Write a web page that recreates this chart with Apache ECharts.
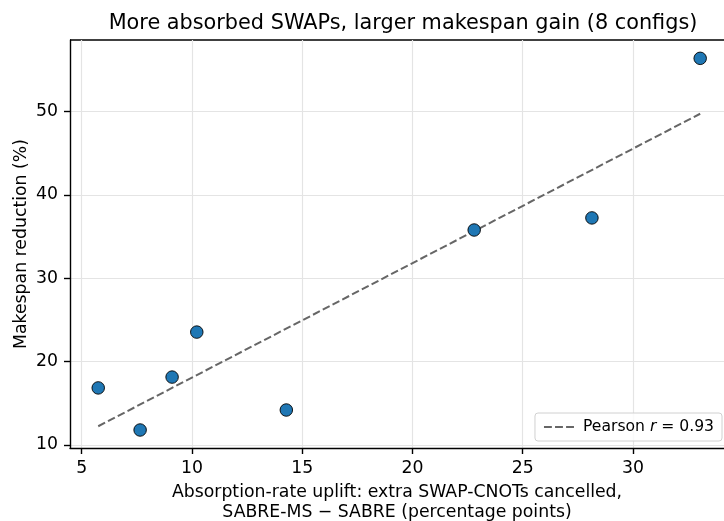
<!DOCTYPE html>
<html><head><meta charset="utf-8">
<script src="https://cdn.jsdelivr.net/npm/echarts@6/dist/echarts.min.js"></script>
<style>html,body{margin:0;padding:0;background:#fff}#c{width:724px;height:521px}</style>
</head><body><div id="c"></div>
<script>
var upliftX = [5.75, 7.65, 9.1, 10.22, 14.28, 22.8, 28.14, 33.05];
var makespanY = [16.85, 11.8, 18.15, 23.55, 14.2, 35.8, 37.25, 56.4];
var fitX = [5.75, 33.05];
var fitY = [12.25, 49.75];
var xTicks = [5, 10, 15, 20, 25, 30];
var yTicks = [10, 20, 30, 40, 50];

var pts = upliftX.map(function(x, i){ return [x, makespanY[i]]; });
var fit = fitX.map(function(x, i){ return [x, fitY[i]]; });
var F = 'DejaVu Sans';
var chart = echarts.init(document.getElementById('c'), null, {renderer:'canvas'});
chart.setOption({
  animation:false,
  textStyle:{fontFamily:F},
  title:{text:'More absorbed SWAPs, larger makespan gain (8 configs)', left:398, textAlign:'center', top:8,
    textStyle:{fontFamily:F, fontSize:20.8, fontWeight:'normal', color:'#000'}},
  grid:{left:70, right:0, top:40, bottom:73, outerBoundsMode:'none', containLabel:false},
  legend:{right:2, bottom:80, orient:'horizontal', data:[{name:'fit'}],
    icon:'path://M0,0h8v2h-8z M11.2,0h8v2h-8z M22.4,0h8v2h-8z', itemWidth:30, itemHeight:2, itemGap:8,
    padding:[6,8,6,9], borderColor:'#d0d0d0', borderWidth:1, borderRadius:3, backgroundColor:'rgba(255,255,255,0.8)',
    formatter:function(){return 'Pearson {i|r} = 0.93';},
    textStyle:{fontFamily:F, fontSize:15.6, color:'#000', padding:[0,0,0,4], rich:{i:{fontFamily:F, fontStyle:'italic', fontSize:15.6, color:'#000'}}}
  },
  xAxis:{type:'value', min:4.47, max:34.13,
    name:'Absorption-rate uplift: extra SWAP-CNOTs cancelled,\nSABRE-MS \u2212 SABRE (percentage points)',
    nameLocation:'middle', nameGap:35, nameMoveOverlap:false, nameTextStyle:{fontFamily:F, fontSize:17.3, color:'#000', lineHeight:20},
    axisLine:{show:true, onZero:false, lineStyle:{color:'#000', width:1.4}},
    axisTick:{show:true, inside:false, length:6, customValues:xTicks, lineStyle:{color:'#000', width:1.4}},
    axisLabel:{customValues:xTicks, fontFamily:F, fontSize:17.3, color:'#000', margin:12},
    splitLine:{show:true, lineStyle:{color:'#e4e4e4', width:1.2}}
  },
  yAxis:{type:'value', min:9.64, max:58.6,
    name:'Makespan reduction (%)', nameLocation:'middle', nameGap:40, nameMoveOverlap:false, nameRotate:90,
    nameTextStyle:{fontFamily:F, fontSize:17.3, color:'#000'},
    axisLine:{show:true, onZero:false, lineStyle:{color:'#000', width:1.4}},
    axisTick:{show:true, inside:false, length:6, customValues:yTicks, lineStyle:{color:'#000', width:1.4}},
    axisLabel:{customValues:yTicks, fontFamily:F, fontSize:17.3, color:'#000', margin:12},
    splitLine:{show:true, lineStyle:{color:'#e4e4e4', width:1.2}}
  },
  graphic:[{type:'line', shape:{x1:70, y1:40, x2:724, y2:40}, style:{stroke:'#000', lineWidth:1.4}, silent:true}],
  series:[
    {name:'fit', type:'line', data:fit, symbol:'none', z:2,
     lineStyle:{color:'#666666', width:2, type:[7.7,3.3]}, itemStyle:{color:'#666666'}},
    {name:'pts', type:'scatter', data:pts, symbol:'circle', symbolSize:12.5, z:3,
     itemStyle:{color:'#1f77b4', borderColor:'#000', borderWidth:0.9, opacity:1}}
  ]
});
</script></body></html>
